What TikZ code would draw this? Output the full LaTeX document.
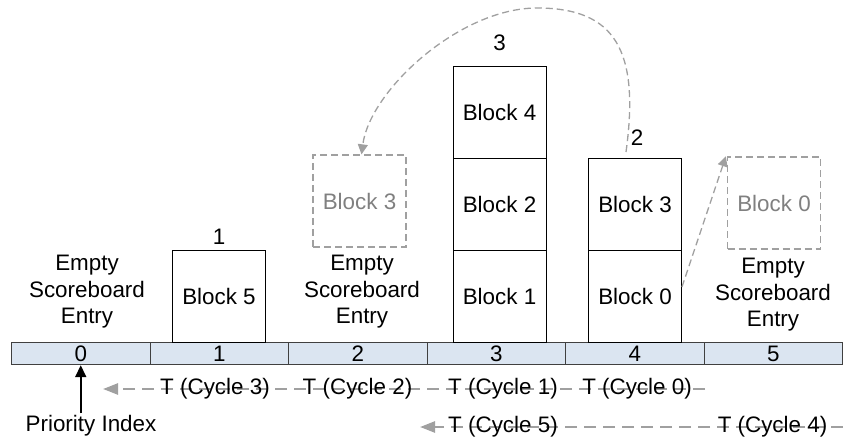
\documentclass[tikz,border=0pt]{standalone}
\usepackage{fontspec}
\setmainfont{Liberation Sans}
\usetikzlibrary{arrows.meta}
\definecolor{cellfill}{RGB}{219,229,241}
\definecolor{dashgray}{RGB}{160,160,160}
\definecolor{ghosttext}{RGB}{128,128,128}
\definecolor{edgegray}{RGB}{64,64,64}

\begin{document}
\begin{tikzpicture}[x=1pt,y=-1pt,
  every node/.style={font=\fontsize{22.4}{26.5}\selectfont, inner sep=0pt},
  blk/.style={draw=black, line width=0.9pt, minimum width=93pt, minimum height=92pt},
  ghost/.style={draw=dashgray, dash pattern=on 7pt off 4pt, line width=1.3pt,
    minimum width=93pt, minimum height=92pt, text=ghosttext},
  cell/.style={draw=edgegray, fill=cellfill, line width=0.9pt,
    minimum width=138.5pt, minimum height=22.5pt},
  emptytxt/.style={align=center},
  moveline/.style={draw=dashgray, line width=1.3pt, dash pattern=on 7pt off 4pt,
    -{Triangle[length=10pt,width=10pt]}},
  cycline/.style={draw=dashgray, line width=2.4pt, dash pattern=on 12pt off 7pt,
    -{Triangle[length=15pt,width=11pt]}},
  ptr/.style={draw=black, line width=1.6pt, -{Triangle[length=12pt,width=11pt]}}
]
\useasboundingbox (0,0) rectangle (845,446);

% scoreboard entries
\foreach \i in {0,...,5}{
  \node[cell] (cell\i) at ({80.75+138.5*\i},353.5) {\i};
}

% occupied entries
\node[blk] (b5) at (219,296) {Block 5};
\node[blk] (b1) at (499.5,296) {Block 1};
\node[blk] (b2) at (499.5,204) {Block 2};
\node[blk] (b4) at (499.5,112) {Block 4};
\node[blk] (b0) at (635,296) {Block 0};
\node[blk] (b3) at (635,204) {Block 3};

% stack heights
\node (h1) at (219,237) {1};
\node (h3) at (499.5,43) {3};
\node (h2) at (637,138) {2};

% moved blocks
\node[ghost] (g3) at (359.5,201) {Block 3};
\node[ghost] (g0) at (774,203) {Block 0};

% empty entries
\node[emptytxt] (e0) at (87,292) {Empty\\Scoreboard\\Entry};
\node[emptytxt] (e2) at (362,292) {Empty\\Scoreboard\\Entry};
\node[emptytxt] (e5) at (773,295) {Empty\\Scoreboard\\Entry};

% block moves
\coordinate (arcS) at (626,152);
\draw[moveline] (arcS) .. controls (640,50) and (615,8) .. (537,8)
  .. controls (460,8) and (370,90) .. ([xshift=2pt]g3.north);
\draw[moveline] ([yshift=9pt]b0.east) -- ([xshift=-1pt]g0.north west);

% priority index pointer
\node (pidx) at (91,426) {Priority Index};
\draw[ptr] ([yshift=2pt]pidx.north -| cell0.south) -- (cell0.south);

% cycle timelines
\coordinate (r1e) at (705,389);
\coordinate (r1s) at (103,389);
\coordinate (r2e) at (843,427);
\coordinate (r2s) at (420,427);
\draw[cycline] (r1e) -- (r1s);
\draw[cycline] (r2e) -- (r2s);
\node (c3) at (215,389) {T (Cycle 3)};
\node (c2) at (357.5,389) {T (Cycle 2)};
\node (c1) at (503,389) {T (Cycle 1)};
\node (c0) at (637,389) {T (Cycle 0)};
\node (c5) at (503,427) {T (Cycle 5)};
\node (c4) at (772.5,427) {T (Cycle 4)};
\end{tikzpicture}
\end{document}
